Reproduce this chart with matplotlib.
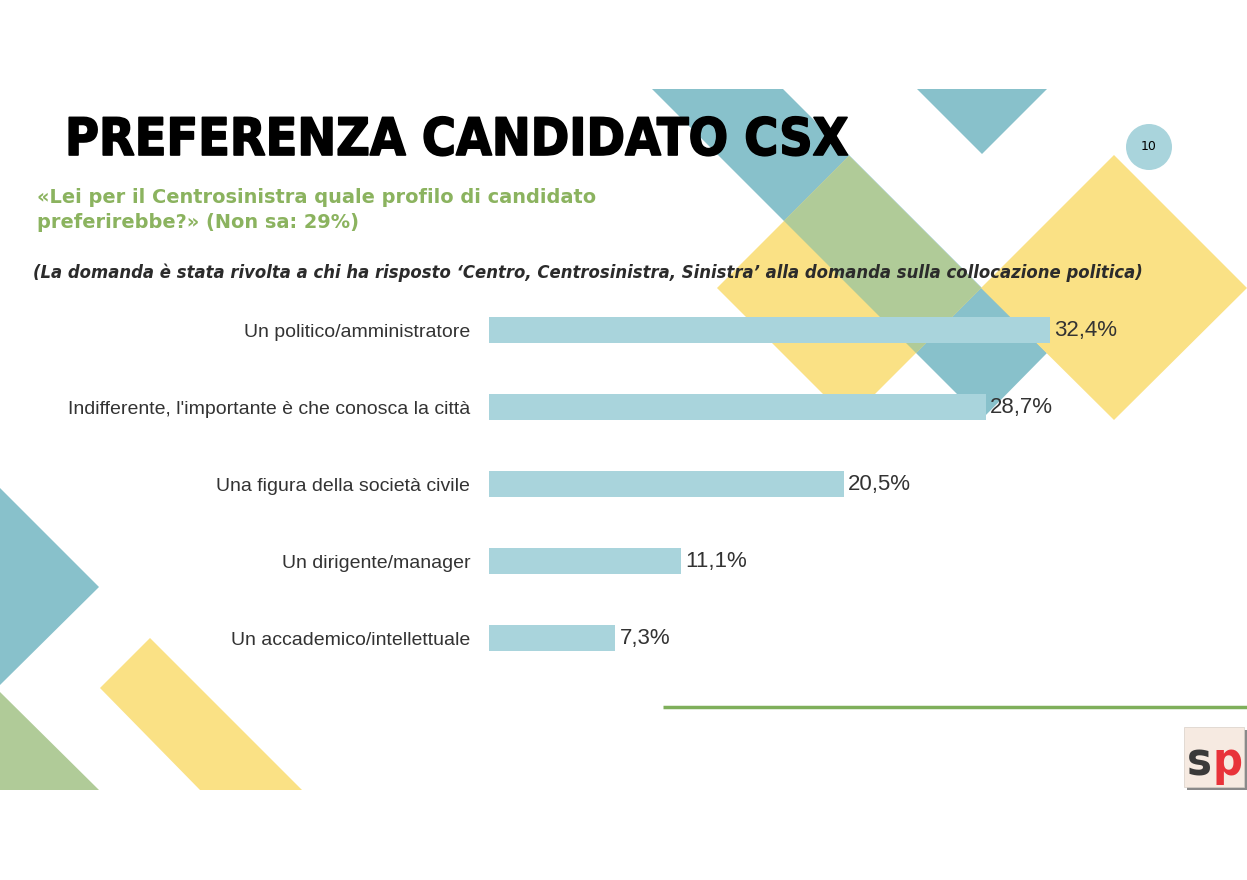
import matplotlib
matplotlib.use("Agg")
import matplotlib.pyplot as plt
from matplotlib.patches import Polygon, Circle, Rectangle
from matplotlib import font_manager as fm
import matplotlib.patheffects as pe

# dati
categorie = ["Un politico/amministratore",
             "Indifferente, l'importante è che conosca la città",
             "Una figura della società civile",
             "Un dirigente/manager",
             "Un accademico/intellettuale"]
valori = [32.4, 28.7, 20.5, 11.1, 7.3]

titolo = "PREFERENZA CANDIDATO CSX"
domanda = ["«Lei per il Centrosinistra quale profilo di candidato",
           "preferirebbe?» (Non sa: 29%)"]
nota = ("(La domanda è stata rivolta a chi ha risposto ‘Centro, Centrosinistra, "
        "Sinistra’ alla domanda sulla collocazione politica)")
pagina = "10"

teal = "#88C1CB"
giallo = "#FAE185"
verde_ov = "#B0CB98"
barra = "#A9D4DC"
verde = "#8BB35F"

# font stretto per il titolo, se c'e'
fp_tit = fm.FontProperties(family="DejaVu Sans", weight="bold", stretch="condensed")
try:
    p = fm.findfont(fp_tit, fallback_to_default=False)
except Exception:
    p = ""
if "Condensed" not in p:
    fp_tit = fm.FontProperties(family="Roboto", weight="black")

W, H = 1247, 880
fig = plt.figure(figsize=(W / 100, H / 100), dpi=100)
fig.patch.set_facecolor("white")

# asse di sfondo in pixel
bg = fig.add_axes([0, 0, 1, 1])
bg.set_xlim(0, W)
bg.set_ylim(H, 0)
bg.axis("off")

def poly(pts, col, z=1):
    bg.add_patch(Polygon(pts, closed=True, facecolor=col, edgecolor="none", zorder=z))

def fit(t, larg):
    # adatta la dimensione del testo alla larghezza voluta (pixel)
    fig.canvas.draw()
    w = t.get_window_extent().width
    t.set_fontsize(t.get_fontsize() * larg / w)

# forme in alto a destra
poly([(652, 89), (783, 89), (1047, 353), (982, 419)], teal, 1)
poly([(849, 156), (981, 288), (849, 420), (717, 288)], giallo, 2)
poly([(849, 156), (981, 288), (916, 353), (784, 221)], verde_ov, 3)
poly([(917, 89), (1047, 89), (982, 154)], teal, 1)
poly([(1114, 155), (1247, 288), (1114, 420), (981, 288)], giallo, 2)

# forme in basso a sinistra
poly([(0, 488), (99, 587), (0, 685)], teal)
poly([(0, 692), (99, 790), (0, 790)], "#B0CB98")
poly([(150, 638), (100, 688), (200, 790), (302, 790)], giallo)

# titolo e testi
t = bg.text(65, 155, titolo, fontproperties=fp_tit, color="black",
            va="baseline", zorder=5,
            path_effects=[pe.withStroke(linewidth=1.2, foreground="black")])
t.set_fontsize(40)
fit(t, 783)

t1 = bg.text(37, 203, domanda[0], fontsize=13, fontweight="bold", color=verde,
             family="DejaVu Sans", va="baseline", zorder=5)
fit(t1, 555)
t2 = bg.text(37, 228, domanda[1], fontsize=t1.get_fontsize(), fontweight="bold",
             color=verde, family="DejaVu Sans", va="baseline", zorder=5)
tn = bg.text(33, 278, nota, fontsize=11, fontweight="bold", style="italic",
             color="#2B2B2B", family="DejaVu Sans", va="baseline", zorder=5)
fit(tn, 1110)

# numero pagina
bg.add_patch(Circle((1149, 147), 23, facecolor=barra, edgecolor="none", zorder=4))
bg.text(1149, 147, pagina, fontsize=9, color="black", ha="center", va="center", zorder=5)

# linea verde
bg.plot([663, 1247], [707, 707], color="#7FAF5B", lw=2.5, solid_capstyle="butt", zorder=4)

# logo
bg.add_patch(Rectangle((1187, 730), 60, 60, facecolor="#8A8A8A", edgecolor="none", zorder=4))
bg.add_patch(Rectangle((1184, 727), 60, 60, facecolor="#F6EAE1", edgecolor="#D8D0C8",
                       lw=0.5, zorder=5))
ts = bg.text(1187, 775, "s", fontproperties=fp_tit, color="#3A3A3A",
             ha="left", va="baseline", zorder=6)
ts.set_fontsize(40)
fit(ts, 25)
tp = bg.text(1213, 775, "p", fontproperties=fp_tit, color="#E8333A",
             ha="left", va="baseline", zorder=6)
tp.set_fontsize(ts.get_fontsize())

# grafico a barre
ax = fig.add_axes([489 / W, (H - 676.5) / H, 692 / W, 385 / H])
ax.patch.set_alpha(0)
pos = list(range(len(categorie)))
barre = ax.barh(pos, valori, height=26 / 77, color=barra, zorder=3)
ax.set_xlim(0, 40)
ax.set_ylim(4.5, -0.5)
etichette = [f"{v:.1f}".replace(".", ",") + "%" for v in valori]
ax.bar_label(barre, labels=etichette, padding=3, fontsize=16, color="#333333",
             family="Liberation Sans")
ax.set_yticks(pos)
ax.set_yticklabels(categorie, fontsize=14, color="#333333", family="Liberation Sans")
ax.tick_params(axis="y", length=0, pad=13.5)
ax.set_xticks([])
for s in ax.spines.values():
    s.set_visible(False)

fig.savefig("out.png", dpi=100, facecolor="white")
